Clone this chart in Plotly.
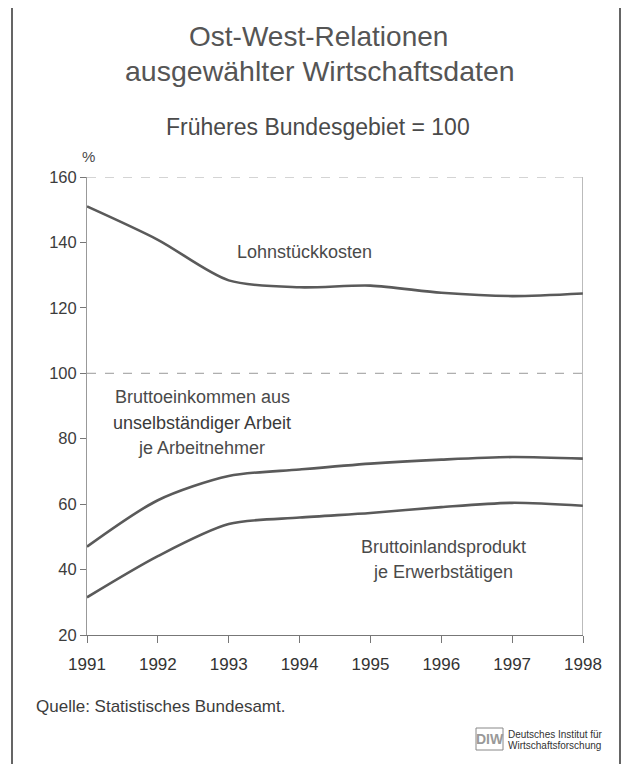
import plotly.graph_objects as go

years = [1991, 1992, 1993, 1994, 1995, 1996, 1997, 1998]
lohnstueckkosten = [151.0, 140.8, 128.4, 126.3, 126.8, 124.6, 123.6, 124.4]
bruttoeinkommen = [47.0, 61.2, 68.6, 70.6, 72.4, 73.6, 74.4, 73.9]
bip = [31.5, 44.1, 53.9, 55.9, 57.3, 59.1, 60.4, 59.5]
y_ticks = [20, 40, 60, 80, 100, 120, 140, 160]

OFF = 8  # browser body margin
W, H = 632 - OFF, 764 - OFF
# plot area in window pixels
PL, PR, PT, PB = 87, 583, 177, 635
L, R, T, B = PL - OFF, W - (PR - OFF), PT - OFF, H - (PB - OFF)
pw, ph = W - L - R, H - T - B

def px(x):
    return (x - OFF - L) / pw

def py(y):
    return (H - B - (y - OFF)) / ph

font = "Liberation Sans, Arial, sans-serif"
col = "#4a4a4a"

fig = go.Figure()
for vals in [lohnstueckkosten, bruttoeinkommen, bip]:
    fig.add_trace(go.Scatter(x=years, y=vals, mode="lines",
                             line=dict(color="#5a5a5a", width=2.6, shape="spline", smoothing=0.8),
                             hoverinfo="skip", showlegend=False))

fig.update_layout(
    width=W, height=H,
    margin=dict(l=L, r=R, t=T, b=B, autoexpand=False),
    paper_bgcolor="white", plot_bgcolor="white",
    font=dict(family=font, color=col),
    xaxis=dict(range=[1991, 1998], tickvals=years, ticktext=[str(y) for y in years],
               showgrid=False, zeroline=False, showline=True, linecolor="#777", linewidth=1,
               ticks="outside", ticklen=7, tickcolor="#777", ticklabelstandoff=7,
               tickfont=dict(size=17, color="#333", family=font), fixedrange=True,
               automargin=False),
    yaxis=dict(range=[20, 160], tickvals=y_ticks, showgrid=False, zeroline=False,
               showline=True, linecolor="#999", linewidth=1, ticks="outside", ticklen=6,
               tickcolor="#777", tickfont=dict(size=16.5, color="#3c3c3c", family=font),
               fixedrange=True, automargin=False),
)

shapes = []
shapes.append(dict(type="line", xref="x", yref="y", x0=1991, x1=1998, y0=100, y1=100,
                   line=dict(color="#999", width=1, dash="dash")))
shapes.append(dict(type="line", xref="x", yref="y", x0=1991, x1=1998, y0=160, y1=160,
                   line=dict(color="#aaa", width=1, dash="dash")))
shapes.append(dict(type="line", xref="x", yref="y", x0=1998, x1=1998, y0=20, y1=160,
                   line=dict(color="#777", width=1)))
# outer frame
shapes.append(dict(type="rect", xref="paper", yref="paper", x0=px(12), x1=px(620), y0=py(5), y1=py(766),
                   line=dict(color="#333", width=1.5), fillcolor="rgba(0,0,0,0)"))
# DIW logo box
shapes.append(dict(type="rect", xref="paper", yref="paper", x0=px(476), x1=px(503), y0=py(728), y1=py(750),
                   line=dict(color="#888", width=1), fillcolor="rgba(0,0,0,0)"))
fig.update_layout(shapes=shapes)

def ann(text, x, y, size, xanchor="center", color=col):
    fig.add_annotation(text=text, x=px(x), y=py(y), xref="paper", yref="paper",
                       showarrow=False, xanchor=xanchor, yanchor="middle",
                       font=dict(size=size, color=color, family=font))

ann("Ost-West-Relationen", 318, 37, 28, color="#555")
ann("ausgewählter Wirtschaftsdaten", 320, 71, 28.5, color="#555")
ann("Früheres Bundesgebiet = 100", 318, 127, 23, color="#4a4a4a")
ann("%", 80, 157, 15, xanchor="left")
ann("Lohnstückkosten", 304, 252, 18)
ann("Bruttoeinkommen aus", 202, 397, 18)
ann("unselbständiger Arbeit", 202, 423, 18, color="#3a3a3a")
ann("je Arbeitnehmer", 201, 448, 18)
ann("Bruttoinlandsprodukt", 443, 547, 18)
ann("je Erwerbstätigen", 443, 572, 18)
ann("Quelle: Statistisches Bundesamt.", 34, 706, 17, xanchor="left", color="#3c3c3c")
ann("<b>DIW</b>", 489.5, 739, 14, color="#999")
ann("Deutsches Institut für", 506, 734, 10, xanchor="left", color="#333")
ann("Wirtschaftsforschung", 506, 745, 10, xanchor="left", color="#333")

fig.write_html("out.html")
